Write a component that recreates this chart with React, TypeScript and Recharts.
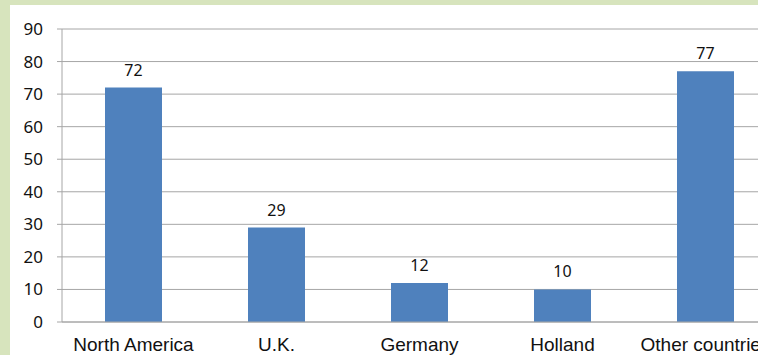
import React from 'react';
import { BarChart, Bar, XAxis, YAxis, CartesianGrid, LabelList } from 'recharts';

// categories and values
const regions = ['North America', 'U.K.', 'Germany', 'Holland', 'Other countries'];
const counts = [72, 29, 12, 10, 77];
const yTicks = [0, 10, 20, 30, 40, 50, 60, 70, 80, 90];
const boundaryTicks = [0, 1, 2, 3, 4, 5];

const chartData = regions.map((name, i) => ({ name, value: counts[i], pos: i + 0.5 }));

const GRID = '#a6a6a6';

const App: React.FC = () => {
  return (
    <div
      style={{
        position: 'absolute',
        left: 0,
        top: 0,
        width: 758,
        height: 355,
        overflow: 'hidden',
        background: '#d7e4bd',
      }}
    >
      <div style={{ position: 'absolute', left: 10, top: 5, right: 0, bottom: 0, background: '#fff' }} />
      <div style={{ position: 'absolute', left: 0, top: 0 }}>
        <BarChart
          width={800}
          height={355}
          data={chartData}
          margin={{ top: 29, right: 23, left: 10, bottom: 0 }}
          barSize={57}
        >
          <CartesianGrid vertical={false} stroke={GRID} strokeWidth={1} />
          <XAxis
            xAxisId="bounds"
            type="number"
            dataKey="pos"
            domain={[0, 5]}
            ticks={boundaryTicks}
            tick={false}
            tickSize={5}
            tickLine={{ stroke: GRID }}
            axisLine={false}
            height={0}
          />
          <XAxis
            dataKey="name"
            interval={0}
            height={33}
            tickSize={0}
            tickMargin={16}
            tickLine={false}
            axisLine={{ stroke: GRID }}
            tick={{ fontSize: 19, fill: '#111', fontFamily: '"Liberation Sans", Arial, sans-serif' }}
          />
          <YAxis
            domain={[0, 90]}
            ticks={yTicks}
            width={52}
            tickSize={5}
            tickMargin={14}
            tickLine={{ stroke: GRID }}
            axisLine={{ stroke: GRID }}
            tick={{ fontSize: 17, fill: '#111', fontFamily: '"Noto Sans", sans-serif' }}
          />
          <Bar dataKey="value" fill="#4f81bd" isAnimationActive={false}>
            <LabelList
              dataKey="value"
              position="top"
              offset={12}
              style={{ fontSize: 16, fill: '#111', fontFamily: '"Noto Sans", sans-serif' }}
            />
          </Bar>
        </BarChart>
      </div>
    </div>
  );
};

export default App;
